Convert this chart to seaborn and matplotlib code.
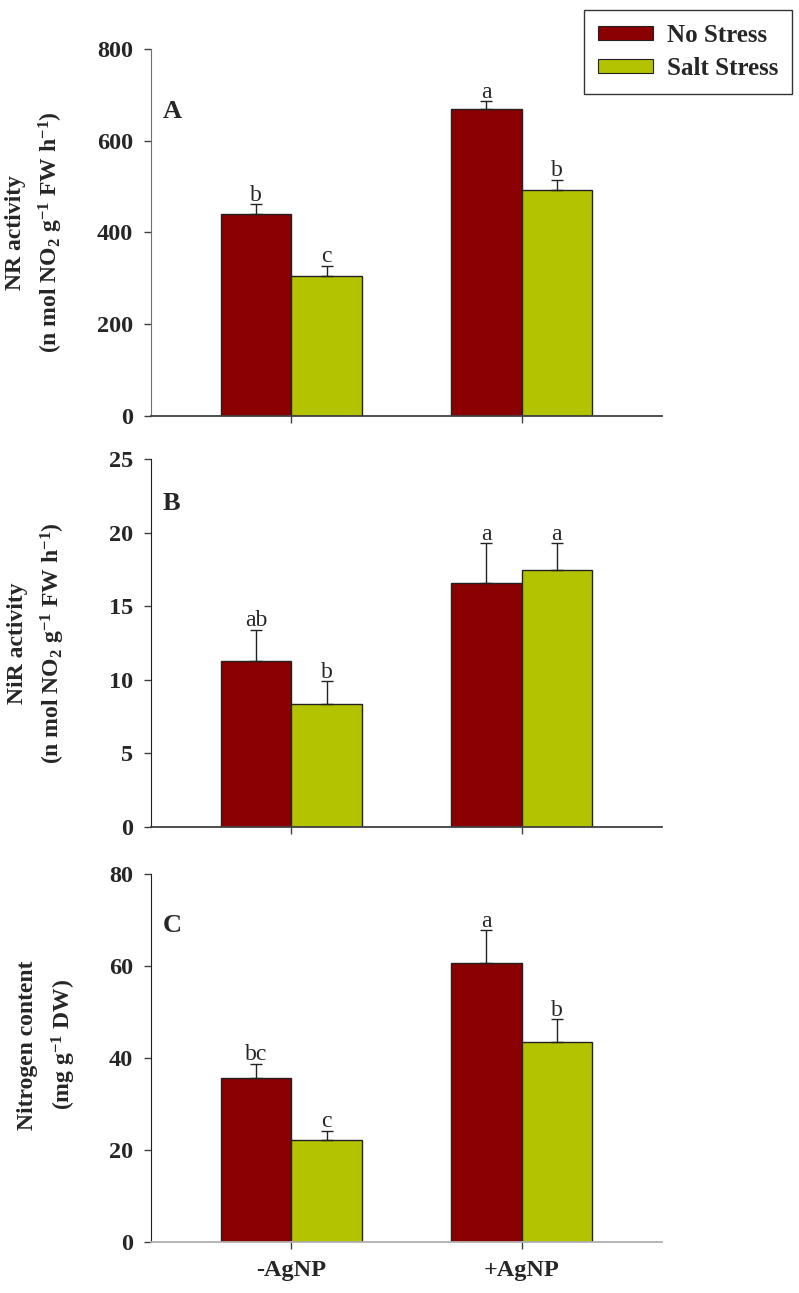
import pandas as pd
import matplotlib
matplotlib.use('Agg')
import matplotlib.pyplot as plt
from matplotlib.patches import Patch
import seaborn as sns

# ==========================================
# DATA
# ==========================================
categories = ['-AgNP', '+AgNP']
stress_levels = ['No Stress', 'Salt Stress']

# Panel A - NR activity
nr_no_stress = [440, 669]
nr_salt_stress = [305, 493]
nr_err_no = [21, 17]
nr_err_salt = [22, 22]
nr_letters_no = ['b', 'a']
nr_letters_salt = ['c', 'b']

# Panel B - NiR activity
nir_no_stress = [11.3, 16.6]
nir_salt_stress = [8.35, 17.5]
nir_err_no = [2.1, 2.7]
nir_err_salt = [1.55, 1.8]
nir_letters_no = ['ab', 'a']
nir_letters_salt = ['b', 'a']

# Panel C - Nitrogen content
n_no_stress = [35.5, 60.7]
n_salt_stress = [22.2, 43.5]
n_err_no = [3.2, 7.0]
n_err_salt = [1.9, 4.9]
n_letters_no = ['bc', 'a']
n_letters_salt = ['c', 'b']

warna = ['#8B0000', '#B4C300']

sns.set_style('ticks')
plt.rcParams['font.family'] = ['Liberation Serif', 'DejaVu Serif']
plt.rcParams['mathtext.fontset'] = 'custom'
plt.rcParams['mathtext.rm'] = 'Liberation Serif:bold'
plt.rcParams['mathtext.bf'] = 'Liberation Serif:bold'
plt.rcParams['mathtext.default'] = 'bf'

fig = plt.figure(figsize=(7.99, 12.93), dpi=100)

panels = [
    dict(no=nr_no_stress, salt=nr_salt_stress, e_no=nr_err_no, e_salt=nr_err_salt,
         l_no=nr_letters_no, l_salt=nr_letters_salt, ylim=800, step=200, tag='A', tag_y=0.83,
         ylabel='NR activity\n(n mol NO$_2$ g$^{-1}$ FW h$^{-1}$)', lab_x=-0.168, lab_y=0.5,
         rect=[0.189, 0.6785, 0.6395, 0.2836], left_c='#707070', bottom_c='#404040'),
    dict(no=nir_no_stress, salt=nir_salt_stress, e_no=nir_err_no, e_salt=nir_err_salt,
         l_no=nir_letters_no, l_salt=nir_letters_salt, ylim=25, step=5, tag='B', tag_y=0.88,
         ylabel='NiR activity\n(n mol NO$_2$ g$^{-1}$ FW h$^{-1}$)', lab_x=-0.164, lab_y=0.5,
         rect=[0.189, 0.3606, 0.6395, 0.2841], left_c='#202020', bottom_c='#404040'),
    dict(no=n_no_stress, salt=n_salt_stress, e_no=n_err_no, e_salt=n_err_salt,
         l_no=n_letters_no, l_salt=n_letters_salt, ylim=80, step=20, tag='C', tag_y=0.86,
         ylabel='Nitrogen content\n(mg g$^{-1}$ DW)', lab_x=-0.143, lab_y=0.535,
         rect=[0.189, 0.0397, 0.6395, 0.2844], left_c='#202020', bottom_c='#b0b0b0'),
]

for i, p in enumerate(panels):
    ax = fig.add_axes(p['rect'])
    df = pd.DataFrame({
        'perlakuan': categories * 2,
        'stres': [stress_levels[0]] * 2 + [stress_levels[1]] * 2,
        'nilai': p['no'] + p['salt'],
    })
    sns.barplot(data=df, x='perlakuan', y='nilai', hue='stres', order=categories,
                hue_order=stress_levels, palette=warna, saturation=1, width=0.61,
                edgecolor='#222222', linewidth=1, errorbar=None, legend=False, ax=ax)

    # Error bar (hanya ke atas) + huruf signifikansi
    for cont, errs, huruf in zip(ax.containers, [p['e_no'], p['e_salt']], [p['l_no'], p['l_salt']]):
        xs = [b.get_x() + b.get_width() / 2 for b in cont]
        hs = [b.get_height() for b in cont]
        ax.errorbar(xs, hs, yerr=[[0] * len(errs), errs], fmt='none', ecolor='#222222',
                    elinewidth=1, capsize=4, capthick=1, zorder=1)
        for x, h, e, t in zip(xs, hs, errs, huruf):
            ax.annotate(t, (x, h + e), xytext=(0, -1), textcoords='offset points',
                        ha='center', va='bottom', fontsize=17)

    ax.set_xlim(-0.61, 1.61)
    ax.set_ylim(0, p['ylim'])
    ax.set_yticks(range(0, p['ylim'] + 1, p['step']))
    ax.tick_params(axis='y', labelsize=17.5, length=5, width=1, color='#404040', pad=8)
    ax.tick_params(axis='x', length=5, width=1, color='#404040', pad=8)
    for lbl in ax.get_yticklabels():
        lbl.set_fontweight('bold')
    if i < 2:
        ax.set_xticklabels([])
    else:
        ax.set_xticks(range(len(categories)))
        ax.set_xticklabels(categories, fontsize=17.5, fontweight='bold')
    ax.set_xlabel('')
    ax.set_ylabel(p['ylabel'], fontsize=17, fontweight='bold', linespacing=1.55)
    ax.yaxis.set_label_coords(p['lab_x'], p['lab_y'])

    sns.despine(ax=ax)
    ax.spines['left'].set_color(p['left_c'])
    ax.spines['bottom'].set_color(p['bottom_c'])
    ax.spines['bottom'].set_linewidth(1.3)

    ax.text(0.023, p['tag_y'], p['tag'], transform=ax.transAxes, fontsize=19,
            fontweight='bold', va='center', ha='left')

# Legend
handles = [Patch(facecolor=warna[0], edgecolor='#222222', linewidth=0.8),
           Patch(facecolor=warna[1], edgecolor='#222222', linewidth=0.8)]
leg = fig.legend(handles, stress_levels, loc='upper right', bbox_to_anchor=(792 / 799, 1 - 10 / 1293),
                 borderaxespad=0,
                 prop={'family': 'Liberation Serif', 'weight': 'bold', 'size': 18},
                 frameon=True, fancybox=False, edgecolor='black', handlelength=2.2,
                 handleheight=0.5, handletextpad=0.55, borderpad=0.55, labelspacing=0.4)
leg.get_frame().set_linewidth(1)

plt.savefig('out.png', dpi=100)
